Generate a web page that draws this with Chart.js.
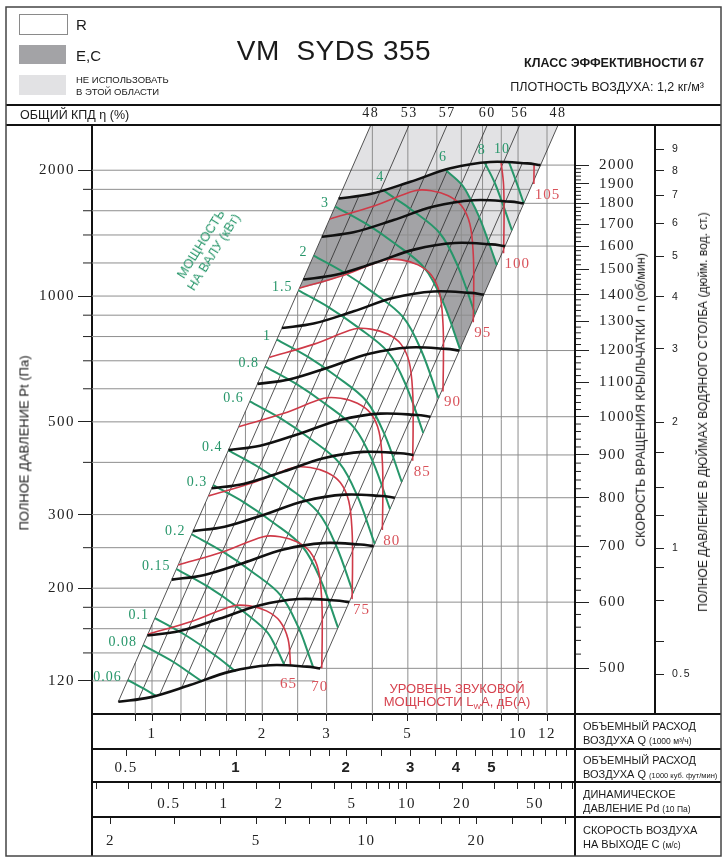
<!DOCTYPE html>
<html lang="ru">
<head>
<meta charset="UTF-8">
<title>VM SYDS 355</title>
<style>
  html, body { margin: 0; padding: 0; background: #fff; }
  #wrap { position: relative; width: 725px; height: 860px; overflow: hidden; }
  #chart { position: absolute; left: 0; top: 0; }
  .t { position: absolute; white-space: nowrap; line-height: 1; color: #1a1a1a;
       font-family: "Liberation Sans", Arial, sans-serif; }
  .box { position: absolute; left: 19px; width: 47px; }
  .c { transform: translate(-50%, -50%); }
  .r90 { transform: translate(-50%, -50%) rotate(-90deg); }
  .small { font-size: 8.5px; }
</style>
</head>
<body>
<div id="wrap">
  <canvas id="chart" width="725" height="860"></canvas>

  <!-- header -->
  <div class="box" style="top:14px;height:19px;border:1px solid #8a8a8a;background:#fff;"></div>
  <div class="box" style="top:45px;height:19px;background:#a3a3a6;"></div>
  <div class="box" style="top:75px;height:20px;background:#e2e2e4;"></div>
  <div class="t" style="left:76px;top:17px;font-size:15px;">R</div>
  <div class="t" style="left:76px;top:48px;font-size:15px;">E,C</div>
  <div class="t" style="left:76px;top:75px;font-size:9.5px;">НЕ ИСПОЛЬЗОВАТЬ</div>
  <div class="t" style="left:76px;top:87px;font-size:9.5px;">В ЭТОЙ ОБЛАСТИ</div>
  <div class="t c" style="left:334px;top:51px;font-size:28px;letter-spacing:0.5px;">VM&nbsp;&nbsp;SYDS 355</div>
  <div class="t" style="right:21px;top:57px;font-size:12.5px;font-weight:bold;">КЛАСС ЭФФЕКТИВНОСТИ 67</div>
  <div class="t" style="right:21px;top:81px;font-size:12.5px;">ПЛОТНОСТЬ ВОЗДУХА: 1,2 кг/м³</div>
  <div class="t" style="left:20px;top:109px;font-size:12.5px;">ОБЩИЙ КПД η (%)</div>

  <!-- axis titles -->
  <div class="t r90" style="left:24px;top:443px;font-size:13px;">ПОЛНОЕ ДАВЛЕНИЕ Pt (Па)</div>
  <div class="t r90" style="left:641px;top:400px;font-size:12.5px;">СКОРОСТЬ ВРАЩЕНИЯ КРЫЛЬЧАТКИ&nbsp; n (об/мин)</div>
  <div class="t r90" style="left:703px;top:412px;font-size:12px;">ПОЛНОЕ ДАВЛЕНИЕ В ДЮЙМАХ ВОДЯНОГО СТОЛБА (дюйм. вод. ст.)</div>

  <!-- in-plot captions -->
  <div class="t" style="left:207px;top:248px;font-size:13px;line-height:15px;text-align:center;color:#27966a;transform:translate(-50%,-50%) rotate(-58deg);">МОЩНОСТЬ<br>НА ВАЛУ (кВт)</div>
  <div class="t c" style="left:457px;top:688px;font-size:13px;color:#d6434f;">УРОВЕНЬ ЗВУКОВОЙ</div>
  <div class="t c" style="left:457px;top:703px;font-size:13px;color:#d6434f;">МОЩНОСТИ L<sub style="font-size:8px;">W</sub>A, дБ(А)</div>

  <!-- bottom scale captions -->
  <div class="t" style="left:583px;top:721px;font-size:11px;">ОБЪЕМНЫЙ РАСХОД</div>
  <div class="t" style="left:583px;top:735px;font-size:11px;">ВОЗДУХА Q <span class="small">(1000 м³/ч)</span></div>
  <div class="t" style="left:583px;top:755px;font-size:11px;">ОБЪЕМНЫЙ РАСХОД</div>
  <div class="t" style="left:583px;top:769px;font-size:11px;">ВОЗДУХА Q <span class="small" style="font-size:7.5px;">(1000 куб. фут/мин)</span></div>
  <div class="t" style="left:583px;top:789px;font-size:11px;">ДИНАМИЧЕСКОЕ</div>
  <div class="t" style="left:583px;top:803px;font-size:11px;">ДАВЛЕНИЕ Pd <span class="small">(10 Па)</span></div>
  <div class="t" style="left:583px;top:825px;font-size:11px;">СКОРОСТЬ ВОЗДУХА</div>
  <div class="t" style="left:583px;top:839px;font-size:11px;">НА ВЫХОДЕ C <span class="small">(м/с)</span></div>
</div>

<script src="https://cdn.jsdelivr.net/npm/chart.js"></script>
<script>
const SERIF = '"Liberation Serif", "DejaVu Serif", serif';
const SANS = '"Liberation Sans", Arial, sans-serif';
const GREEN = '#27966a', RED = '#cf3a48', RED_TXT = '#d9535b';

// plot window: Q in 1000 m3/h, Pt in Pa
const qMin = 0.6856, qMax = 14.31;
const pMin = 100, pMax = 2566;

// conversions used by the side and bottom scales
const CFM_PER_M3H = 0.5886;
const OUTLET_AREA = 0.107;      // m2
const PA_PER_RPM2 = 5.144e-4;   // rpm scale: Pt at the curve end = c * n^2
const PA_PER_INCH = 249.09;
const velMin = qMin / 3.6 / OUTLET_AREA, velMax = qMax / 3.6 / OUTLET_AREA;
const pdMin = 0.06 * velMin * velMin, pdMax = 0.06 * velMax * velMax;

// ticks
const qTicks = [0.9, 1, 1.2, 1.4, 1.6, 1.8, 2, 2.5, 3, 4, 5, 6, 7, 8, 9, 10, 12];
const qTickLabels = [1, 2, 3, 5, 10, 12];
const cfmTicks = [0.5, 0.6, 0.7, 0.8, 0.9, 1, 1.2, 1.4, 1.6, 1.8, 2, 2.5, 3, 3.5, 4, 4.5, 5, 5.5, 6, 6.5, 7, 7.5, 8];
const cfmTickLabels = [0.5, 1, 2, 3, 4, 5];
const pdTicks = [0.2, 0.3, 0.4, 0.5, 0.6, 0.7, 0.8, 0.9, 1, 1.5, 2, 3, 4, 5, 6, 7, 8, 9, 10, 15, 20, 30, 40, 50, 60, 70, 80];
const pdTickLabels = [0.5, 1, 2, 5, 10, 20, 50];
const velTicks = [2, 3, 4, 5, 6, 7, 8, 9, 10, 12, 14, 16, 18, 20, 25, 30, 35];
const velTickLabels = [2, 5, 10, 20];
const pressureTicks = [120, 140, 160, 180, 200, 250, 300, 400, 500, 600, 700, 800, 900, 1000, 1200, 1400, 1600, 1800, 2000];
const pressureTickLabels = [120, 200, 300, 500, 1000, 2000];
const rpmTicks = [500, 600, 700, 800, 900, 1000, 1100, 1200, 1300, 1400, 1500, 1600, 1700, 1800, 1900, 2000];
const inchTicks = [0.5, 0.6, 0.75, 0.9, 1, 1.2, 1.4, 1.7, 2, 3, 4, 5, 6, 7, 8, 9];
const inchTickLabels = [0.5, 1, 2, 3, 4, 5, 6, 7, 8, 9];

// efficiency (system) lines, Pt = k * Q^2
const efficiencyLabels = [48, 53, 57, 60, 56, 48];
const efficiencyK = [163.5, 101, 62.6, 37.8, 25.1, 15.5];
const efficiencyBottomQ = [0.809, 1.05, 1.385, 1.842, 2.283, 2.88];
const midLineK = [128.5, 79.5, 48.6, 30.8, 19.7];
const midLineBottomQ = [0.92, 1.205, 1.606, 2.058, 2.57];
const midLineTopQ = [3.68, 4.82, 6.424, 8.232, 10.28];
const K_LEFT = efficiencyK[0], K_RIGHT = efficiencyK[efficiencyK.length - 1];

// fan curves (black), one per speed
const fanRpm = [500, 600, 700, 800, 900, 1000, 1200, 1400, 1600, 1800, 2000];
const fanQ = [
  [0.809, 0.987, 1.270, 1.634, 2.100, 2.650, 2.880],
  [0.971, 1.184, 1.524, 1.961, 2.520, 3.180, 3.456],
  [1.133, 1.382, 1.778, 2.288, 2.940, 3.710, 4.032],
  [1.294, 1.579, 2.032, 2.614, 3.360, 4.240, 4.608],
  [1.456, 1.777, 2.286, 2.941, 3.780, 4.770, 5.184],
  [1.618, 1.974, 2.540, 3.268, 4.200, 5.300, 5.760],
  [1.942, 2.369, 3.048, 3.922, 5.040, 6.360, 6.912],
  [2.265, 2.764, 3.556, 4.575, 5.880, 7.420, 8.064],
  [2.589, 3.158, 4.064, 5.229, 6.720, 8.480, 9.216],
  [2.912, 3.553, 4.572, 5.882, 7.560, 9.540, 10.368],
  [3.236, 3.948, 5.080, 6.536, 8.400, 10.600, 11.520]
];
const fanP = [
  [107.0, 109.6, 117.3, 126.3, 130.8, 129.8, 128.6],
  [154.1, 157.8, 168.9, 181.9, 188.4, 186.9, 185.2],
  [209.7, 214.8, 229.9, 247.5, 256.4, 254.4, 252.1],
  [273.9, 280.6, 300.3, 323.3, 334.8, 332.3, 329.2],
  [346.7, 355.1, 380.1, 409.2, 423.8, 420.6, 416.7],
  [428.0, 438.4, 469.2, 505.2, 523.2, 519.2, 514.4],
  [616.3, 631.3, 675.6, 727.5, 753.4, 747.6, 740.7],
  [838.9, 859.3, 919.6, 990.2, 1025.5, 1017.6, 1008.2],
  [1095.7, 1122.3, 1201.2, 1293.3, 1339.4, 1329.2, 1316.9],
  [1386.7, 1420.4, 1520.2, 1636.8, 1695.2, 1682.2, 1666.7],
  [1712.0, 1753.6, 1876.8, 2020.8, 2092.8, 2076.8, 2057.6]
];

// shaft power curves (green), kW
const powerKw = [0.06, 0.08, 0.1, 0.15, 0.2, 0.3, 0.4, 0.6, 0.8, 1, 1.5, 2, 3, 4, 6, 8, 10];
const powerQ = [
  [0.859, 0.947, 1.022],
  [0.945, 1.148, 1.258, 1.368],
  [1.019, 1.236, 1.486, 1.692],
  [1.166, 1.415, 1.700, 2.047, 2.173, 2.295],
  [1.283, 1.557, 1.872, 2.253, 2.523, 2.668, 2.760],
  [1.469, 1.783, 2.142, 2.579, 2.889, 3.222],
  [1.617, 1.962, 2.358, 2.838, 3.179, 3.546],
  [1.850, 2.246, 2.699, 3.249, 3.639, 4.059],
  [2.037, 2.472, 2.971, 3.576, 4.006, 4.468],
  [2.194, 2.663, 3.201, 3.852, 4.315, 4.813],
  [2.512, 3.048, 3.664, 4.409, 4.939, 5.509],
  [2.764, 3.355, 4.032, 4.853, 5.437, 6.064],
  [3.164, 3.841, 4.616, 5.555, 6.223, 6.941],
  [4.284, 4.635, 5.081, 6.115, 6.850, 7.640],
  [6.356, 7.000, 7.430, 7.841, 8.292, 8.746],
  [8.117, 8.630, 9.126, 9.626],
  [9.450, 9.831, 10.369]
];
const powerP = [
  [120.6, 115.1, 110.8],
  [146.1, 133.0, 125.9, 119.7],
  [169.6, 154.3, 138.2, 126.4],
  [222.2, 202.2, 181.0, 158.3, 145.4, 131.5],
  [269.2, 244.9, 219.3, 191.8, 159.8, 140.3, 129.0],
  [352.7, 320.9, 287.3, 251.3, 209.4, 160.9],
  [427.2, 388.8, 348.1, 304.5, 253.7, 194.9],
  [559.8, 509.5, 456.1, 399.0, 332.4, 255.4],
  [678.2, 617.2, 552.6, 483.3, 402.7, 309.4],
  [787.0, 716.3, 641.2, 560.9, 467.3, 359.1],
  [1031.3, 938.5, 840.2, 734.9, 612.4, 470.5],
  [1249.3, 1136.9, 1017.8, 890.3, 741.9, 569.9],
  [1637.0, 1489.8, 1333.7, 1166.6, 972.0, 746.8],
  [1790.7, 1708.1, 1615.8, 1413.3, 1177.6, 904.8],
  [1999.0, 1852.0, 1700.4, 1543.1, 1354.4, 1185.5],
  [2082.0, 1869.4, 1640.7, 1436.2],
  [2088.0, 1903.8, 1666.5]
];

// sound power curves (red), dB(A)
const soundDb = [65, 70, 75, 80, 85, 90, 95, 100, 105];
const soundQ = [
  [0.975, 1.294, 1.664, 1.849, 2.054, 2.233, 2.354, 2.390],
  [1.180, 1.566, 2.014, 2.237, 2.486, 2.702, 2.848, 2.909, 2.918, 2.909],
  [1.428, 1.895, 2.437, 2.707, 3.008, 3.269, 3.446, 3.520, 3.531, 3.520],
  [1.728, 2.293, 2.949, 3.275, 3.640, 3.956, 4.170, 4.259, 4.272, 4.259],
  [2.090, 2.774, 3.568, 3.963, 4.404, 4.787, 5.045, 5.154, 5.169, 5.154],
  [2.529, 3.357, 4.317, 4.795, 5.329, 5.792, 6.105, 6.236, 6.255, 6.236],
  [3.061, 4.062, 5.224, 5.802, 6.448, 7.008, 7.387, 7.545, 7.568, 7.545],
  [8.990, 9.130, 9.158, 9.130],
  [11.065, 11.047]
];
const soundP = [
  [155.2, 167.0, 181.4, 181.4, 176.5, 167.0, 151.0, 131.0],
  [227.2, 244.5, 265.6, 265.6, 258.4, 244.5, 221.1, 187.4, 156.0, 128.6],
  [332.6, 358.0, 388.9, 388.9, 378.3, 358.0, 323.7, 274.4, 228.4, 188.3],
  [487.0, 524.1, 569.3, 569.3, 553.9, 524.1, 474.0, 401.7, 334.4, 275.7],
  [713.0, 767.3, 833.6, 833.6, 811.0, 767.3, 693.9, 588.1, 489.6, 403.6],
  [1044.0, 1123.5, 1220.4, 1220.4, 1187.3, 1123.5, 1016.0, 861.1, 716.8, 590.9],
  [1528.5, 1644.9, 1786.8, 1786.8, 1738.4, 1644.9, 1487.5, 1260.7, 1049.5, 865.2],
  [2090.0, 1846.0, 1536.6, 1266.7],
  [2067.0, 1854.5]
];

// shaded areas
const darkQ = [3.236, 2.529, 2.898, 3.357, 3.807, 4.317, 4.795, 5.329, 5.792, 6.105, 6.130, 6.223, 6.581, 6.941,
               8.746, 8.292, 7.841, 7.430, 7.000, 6.356, 5.760, 5.080, 4.480, 3.948, 3.556, 3.236];
const darkP = [1712, 1044, 1073, 1123.5, 1187.4, 1220.4, 1220.4, 1187.3, 1123.5, 1016, 995, 972, 853.2, 746.8,
               1185.5, 1354.4, 1543.1, 1700.4, 1852, 1999, 1953.6, 1876.8, 1809.6, 1753.6, 1728, 1712];
const lightQ = [3.236, 3.988, 12.95, 8.746, 8.292, 7.841, 7.430, 7.000, 6.356, 5.760, 5.080, 4.480, 3.948, 3.556, 3.236];
const lightP = [1712, 2600, 2600, 1185.5, 1354.4, 1543.1, 1700.4, 1852, 1999, 1953.6, 1876.8, 1809.6, 1753.6, 1728, 1712];

const pts = (qs, ps) => qs.map((q, i) => ({x: q, y: ps[i]}));
const line = (data, color, width, order, tension) => ({
  data, borderColor: color, borderWidth: width, pointRadius: 0, fill: false, tension: tension || 0, order
});

const datasets = [];
datasets.push({data: pts(lightQ, lightP), fill: 'shape', backgroundColor: '#e2e2e4', borderWidth: 0, pointRadius: 0, order: 30});
datasets.push({data: pts(darkQ, darkP), fill: 'shape', backgroundColor: '#a3a3a6', borderWidth: 0, pointRadius: 0, order: 29});

// grid: pressure lines stop at the right edge of the field, verticals stop at its left edge
pressureTicks.forEach(p => datasets.push(line([{x: qMin, y: p}, {x: Math.sqrt(p / K_RIGHT), y: p}], '#8e8e8e', 1, 25)));
qTicks.forEach(q => datasets.push(line([{x: q, y: pMin}, {x: q, y: Math.min(pMax, K_LEFT * q * q)}], '#8e8e8e', 1, 25)));
fanQ.forEach((qs, i) => {
  const n = qs.length - 1;
  datasets.push(line([{x: qs[n], y: fanP[i][n]}, {x: qMax, y: fanP[i][n]}], '#8e8e8e', 1, 25));
});

// efficiency lines
efficiencyK.forEach((k, i) => {
  const qb = efficiencyBottomQ[i];
  datasets.push(line([{x: qb, y: k * qb * qb}, {x: Math.sqrt(pMax / k), y: pMax}], '#2a2a2a', 0.8, 20));
});
midLineK.forEach((k, i) => {
  const qb = midLineBottomQ[i], qt = midLineTopQ[i];
  datasets.push(line([{x: qb, y: k * qb * qb}, {x: qt, y: k * qt * qt}], '#2a2a2a', 0.8, 20));
});

powerKw.forEach((kw, i) => datasets.push(line(pts(powerQ[i], powerP[i]), GREEN, 2, 12, 0.35)));
soundDb.forEach((db, i) => datasets.push(line(pts(soundQ[i], soundP[i]), RED, 1.6, 11, 0.35)));
fanRpm.forEach((n, i) => datasets.push(line(pts(fanQ[i], fanP[i]), '#111', 2.6, 10, 0.35)));

// fixed ticks and fixed box sizes for every scale
const fixTicks = list => scale => { scale.ticks = list.map(v => ({value: v})); };
const labelFrom = list => v => (list.includes(v) ? String(v) : '');
const axisBorder = {display: true, color: '#111', width: 2};

const curveLabels = {
  id: 'curveLabels',
  afterDatasetsDraw(chart) {
    const {ctx, scales: {x, y}} = chart;
    ctx.save();
    ctx.letterSpacing = '1px';
    ctx.textBaseline = 'middle';
    ctx.font = '14px ' + SERIF;
    ctx.fillStyle = GREEN;
    ctx.textAlign = 'right';
    powerKw.forEach((kw, i) => {
      const px = x.getPixelForValue(powerQ[i][0]), py = y.getPixelForValue(powerP[i][0]);
      if (kw >= 4) ctx.fillText(String(kw), px + 1, py - 13);
      else ctx.fillText(String(kw), px - 6, py - 3);
    });
    ctx.font = '15px ' + SERIF;
    ctx.fillStyle = RED_TXT;
    soundDb.forEach((db, i) => {
      const n = soundQ[i].length - 1;
      const px = x.getPixelForValue(soundQ[i][n]), py = y.getPixelForValue(soundP[i][n]);
      if (db <= 70) { ctx.textAlign = 'center'; ctx.fillText(String(db), px - 2, py + 19); }
      else { ctx.textAlign = 'left'; ctx.fillText(String(db), px + 1, py + 11); }
    });
    ctx.restore();
  }
};

const sheet = {
  id: 'sheet',
  beforeDraw(chart) { chart.ctx.letterSpacing = '1.5px'; },
  afterDraw(chart) {
    const {ctx, chartArea: a, scales} = chart;
    const R = scales.yIn.right, B = scales.xVel.bottom;
    const L = (x1, y1, x2, y2) => { ctx.beginPath(); ctx.moveTo(x1, y1); ctx.lineTo(x2, y2); ctx.stroke(); };
    ctx.save();
    ctx.strokeStyle = '#222';
    ctx.lineWidth = 1;
    pressureTicks.filter(p => !pressureTickLabels.includes(p)).forEach(p => {
      const yy = scales.y.getPixelForValue(p); L(a.left - 9, yy, a.left, yy);
    });
    for (let n = 520; n < 2000; n += 20) {
      if (n % 100) { const yy = scales.yRpm.getPixelForValue(n); L(a.right, yy, a.right + 6, yy); }
    }
    ctx.strokeStyle = '#111';
    ctx.lineWidth = 2;
    L(6, 105, R, 105);
    L(6, a.top, R, a.top);
    L(a.left, a.bottom, a.left, B);
    L(a.right, a.top, a.right, B);
    L(a.right, a.bottom, R, a.bottom);
    [scales.xCfm.top, scales.xPd.top, scales.xVel.top].forEach(yy => L(a.left, yy, R, yy));
    ctx.strokeStyle = '#444';
    ctx.lineWidth = 1.5;
    ctx.strokeRect(6, 7, R - 6, B - 7);
    ctx.restore();
  }
};

const bottomTicks = (size, padding) => ({autoSkip: false, maxRotation: 0, padding, color: '#222', font: {family: SERIF, size}});

new Chart(document.getElementById('chart'), {
  type: 'line',
  data: {datasets},
  options: {
    responsive: false,
    animation: false,
    events: [],
    layout: {padding: {left: 6, right: 4, top: 105, bottom: 4}},
    plugins: {legend: {display: false}, tooltip: {enabled: false}},
    elements: {point: {radius: 0, hitRadius: 0}},
    scales: {
      x: {
        type: 'logarithmic', position: 'bottom', weight: 0, min: qMin, max: qMax, bounds: 'data',
        afterBuildTicks: fixTicks(qTicks), afterFit: s => { s.height = 35; },
        grid: {drawOnChartArea: false, tickLength: 7, color: '#222'}, border: axisBorder,
        ticks: Object.assign(bottomTicks(15, 4), {callback: labelFrom(qTickLabels)})
      },
      xCfm: {
        type: 'logarithmic', position: 'bottom', weight: 1,
        min: qMin * CFM_PER_M3H, max: qMax * CFM_PER_M3H, bounds: 'data',
        afterBuildTicks: fixTicks(cfmTicks), afterFit: s => { s.height = 33; },
        grid: {drawOnChartArea: false, tickLength: 7, color: '#222'}, border: axisBorder,
        ticks: Object.assign(bottomTicks(15, 3), {
          callback: labelFrom(cfmTickLabels),
          font: c => (c.tick && c.tick.value === 0.5) ? {family: SERIF, size: 15} : {family: SANS, size: 15, weight: 'bold'}
        })
      },
      xPd: {
        type: 'logarithmic', position: 'bottom', weight: 2, min: pdMin, max: pdMax, bounds: 'data',
        afterBuildTicks: fixTicks(pdTicks), afterFit: s => { s.height = 35; },
        grid: {drawOnChartArea: false, tickLength: 7, color: '#222'}, border: axisBorder,
        ticks: Object.assign(bottomTicks(15, 6), {callback: labelFrom(pdTickLabels)})
      },
      xVel: {
        type: 'logarithmic', position: 'bottom', weight: 3, min: velMin, max: velMax, bounds: 'data',
        afterBuildTicks: fixTicks(velTicks), afterFit: s => { s.height = 39; },
        grid: {drawOnChartArea: false, tickLength: 7, color: '#222'}, border: axisBorder,
        ticks: Object.assign(bottomTicks(15, 8), {callback: labelFrom(velTickLabels)})
      },
      xTop: {
        type: 'logarithmic', position: 'top', min: qMin, max: qMax, bounds: 'data',
        afterBuildTicks: fixTicks(efficiencyK.map(k => Math.sqrt(pMax / k))), afterFit: s => { s.height = 20; },
        grid: {display: false, drawTicks: false}, border: axisBorder,
        ticks: {autoSkip: false, maxRotation: 0, padding: 3, color: '#222', font: {family: SERIF, size: 14},
                callback: (v, i) => String(efficiencyLabels[i])}
      },
      y: {
        type: 'logarithmic', position: 'left', min: pMin, max: pMax, bounds: 'data',
        afterBuildTicks: fixTicks(pressureTickLabels), afterFit: s => { s.width = 86; },
        grid: {drawOnChartArea: false, tickLength: 14, color: '#222'}, border: axisBorder,
        ticks: {autoSkip: false, padding: 3, color: '#222', font: {family: SERIF, size: 15}, callback: v => String(v)}
      },
      yRpm: {
        type: 'logarithmic', position: 'right', weight: 0, bounds: 'data',
        min: Math.sqrt(pMin / PA_PER_RPM2), max: Math.sqrt(pMax / PA_PER_RPM2),
        afterBuildTicks: fixTicks(rpmTicks), afterFit: s => { s.width = 80; },
        grid: {drawOnChartArea: false, tickLength: 14, color: '#222'}, border: axisBorder,
        ticks: {autoSkip: false, padding: 10, color: '#222', font: {family: SERIF, size: 15}, callback: v => String(v)}
      },
      yIn: {
        type: 'logarithmic', position: 'right', weight: 1, bounds: 'data',
        min: pMin / PA_PER_INCH, max: pMax / PA_PER_INCH,
        afterBuildTicks: fixTicks(inchTicks), afterFit: s => { s.width = 66; },
        grid: {drawOnChartArea: false, tickLength: 9, color: '#222'}, border: axisBorder,
        ticks: {autoSkip: false, padding: 8, color: '#222', font: {family: SANS, size: 10.5}, callback: labelFrom(inchTickLabels)}
      }
    }
  },
  plugins: [sheet, curveLabels]
});
</script>
</body>
</html>
